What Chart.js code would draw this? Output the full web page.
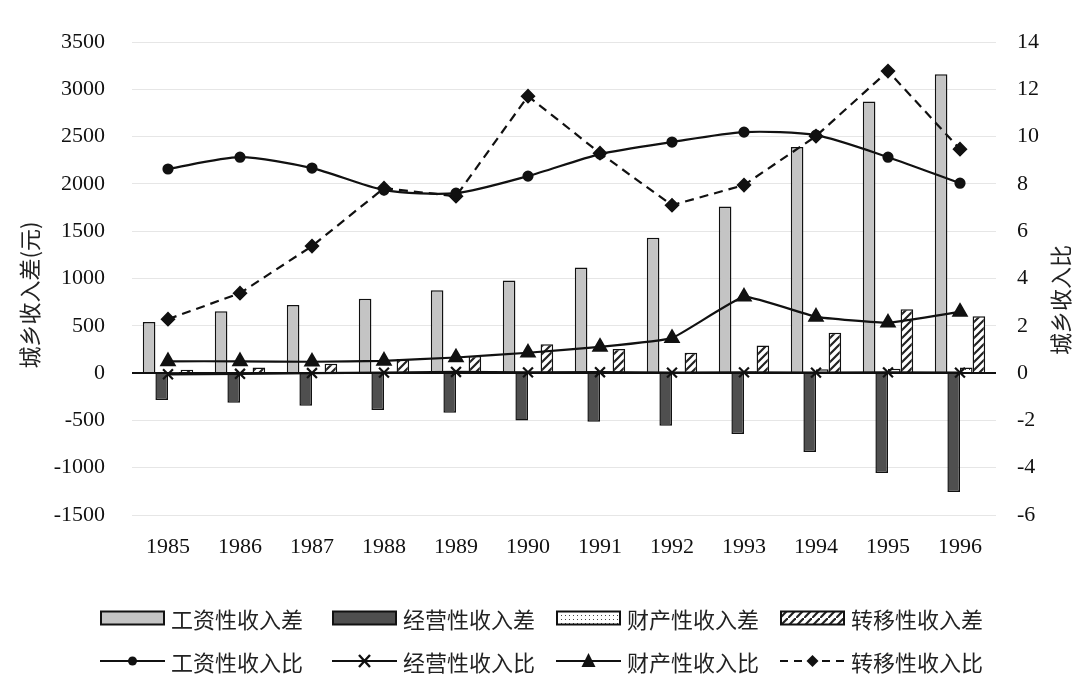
<!DOCTYPE html>
<html>
<head>
<meta charset="utf-8">
<script src="https://cdn.jsdelivr.net/npm/chart.js@4/dist/chart.umd.min.js"></script>
<style>
  html, body { margin: 0; padding: 0; background: #fff; }
  #wrap { position: relative; width: 1080px; height: 683px; }
  #chart { position: absolute; left: 0; top: 0; }
  .legend { position: absolute; left: 0; top: 0; width: 1080px; height: 683px; pointer-events: none;
    font-family: "Noto Sans CJK SC", "Noto Sans", sans-serif; font-size: 22px; color: #222; }
  .item { position: absolute; display: flex; align-items: center; white-space: nowrap; }
  .item svg { margin-right: 6px; }
</style>
</head>
<body>
<div id="wrap">
  <canvas id="chart" width="1080" height="683"></canvas>
  <div class="legend" id="legend"></div>
</div>
<script>
const years = ["1985", "1986", "1987", "1988", "1989", "1990", "1991", "1992", "1993", "1994", "1995", "1996"];

// 城乡收入差 (元), left axis
const wageDiff = [540, 655, 720, 785, 875, 980, 1115, 1430, 1760, 2390, 2870, 3160];
const bizDiff = [-285, -314, -345, -391, -420, -500, -515, -557, -645, -835, -1057, -1258];
const propDiff = [6, 8, 8, 10, 12, 14, 12, 10, 20, 40, 45, 60];
const transDiff = [35, 60, 100, 150, 180, 305, 255, 215, 293, 426, 676, 602];

// 城乡收入比, right axis
const wageRatio = [8.63, 9.13, 8.67, 7.74, 7.61, 8.33, 9.26, 9.77, 10.19, 10.06, 9.13, 8.03];
const bizRatio = [-0.05, -0.03, 0.0, 0.02, 0.05, 0.03, 0.04, 0.02, 0.03, 0.02, 0.03, 0.02];
const propRatio = [0.5, 0.5, 0.48, 0.52, 0.66, 0.86, 1.11, 1.48, 3.23, 2.38, 2.13, 2.59];
const transRatio = [2.28, 3.38, 5.37, 7.82, 7.48, 11.71, 9.3, 7.1, 7.95, 10.02, 12.77, 9.47];

const leftTicks = { min: -1500, max: 3500, step: 500 };
const rightTicks = { min: -6, max: 14, step: 2 };

function hatchPattern() {
  const c = document.createElement("canvas");
  c.width = 8; c.height = 8;
  const g = c.getContext("2d");
  g.fillStyle = "#fff";
  g.fillRect(0, 0, 8, 8);
  g.strokeStyle = "#222";
  g.lineWidth = 2.2;
  g.beginPath();
  g.moveTo(-2, 10); g.lineTo(10, -2);
  g.moveTo(-2, 2); g.lineTo(2, -2);
  g.moveTo(6, 10); g.lineTo(10, 6);
  g.stroke();
  return g.createPattern(c, "repeat");
}

function dotPattern() {
  const c = document.createElement("canvas");
  c.width = 4; c.height = 4;
  const g = c.getContext("2d");
  g.fillStyle = "#fff";
  g.fillRect(0, 0, 4, 4);
  g.fillStyle = "#444";
  g.fillRect(1, 1, 1, 1);
  return g.createPattern(c, "repeat");
}

const serif = "'Liberation Serif', 'DejaVu Serif', serif";

const axisTitles = {
  id: "axisTitles",
  afterDraw(chart) {
    const ctx = chart.ctx;
    ctx.save();
    ctx.fillStyle = "#222";
    ctx.font = "22px 'Noto Sans CJK SC', sans-serif";
    ctx.textAlign = "center";
    ctx.textBaseline = "middle";
    ctx.translate(30, 295);
    ctx.rotate(-Math.PI / 2);
    ctx.fillText("城乡收入差(元)", 0, 0);
    ctx.restore();
    ctx.save();
    ctx.fillStyle = "#222";
    ctx.font = "22px 'Noto Sans CJK SC', sans-serif";
    ctx.textAlign = "center";
    ctx.textBaseline = "middle";
    ctx.translate(1061, 300);
    ctx.rotate(-Math.PI / 2);
    ctx.fillText("城乡收入比", 0, 0);
    ctx.restore();
  }
};

const barBase = { type: "bar", yAxisID: "y", borderColor: "#111", borderWidth: 1.5, order: 2, barPercentage: 1.0, categoryPercentage: 0.7 };
const lineBase = { type: "line", yAxisID: "y1", borderColor: "#111", borderWidth: 2.2, pointBackgroundColor: "#111",
  pointBorderColor: "#111", order: 1, fill: false };

new Chart(document.getElementById("chart"), {
  data: {
    labels: years,
    datasets: [
      Object.assign({}, barBase, { label: "工资性收入差", data: wageDiff, backgroundColor: "#c4c4c4" }),
      Object.assign({}, barBase, { label: "经营性收入差", data: bizDiff, backgroundColor: "#4f4f4f" }),
      Object.assign({}, barBase, { label: "财产性收入差", data: propDiff, backgroundColor: dotPattern() }),
      Object.assign({}, barBase, { label: "转移性收入差", data: transDiff, backgroundColor: hatchPattern() }),
      Object.assign({}, lineBase, { label: "工资性收入比", data: wageRatio, pointStyle: "circle", pointRadius: 4.5, tension: 0.25 }),
      Object.assign({}, lineBase, { label: "经营性收入比", data: bizRatio, pointStyle: "crossRot", pointRadius: 7, pointBorderWidth: 2.2 }),
      Object.assign({}, lineBase, { label: "财产性收入比", data: propRatio, pointStyle: "triangle", pointRadius: 7.5, tension: 0.1 }),
      Object.assign({}, lineBase, { label: "转移性收入比", data: transRatio, pointStyle: "rectRot", pointRadius: 6, borderDash: [9, 6] })
    ]
  },
  options: {
    responsive: false,
    animation: false,
    layout: { padding: { top: 42, left: 0, right: 0, bottom: 0 } },
    plugins: { legend: { display: false }, tooltip: { enabled: false } },
    scales: {
      x: {
        offset: true,
        grid: { display: false, drawTicks: false },
        border: { display: false },
        ticks: { padding: 19, color: "#111", font: { family: serif, size: 22 } },
        afterFit(s) { s.height = 168; }
      },
      y: {
        position: "left",
        min: leftTicks.min, max: leftTicks.max,
        border: { display: false },
        grid: {
          drawTicks: false,
          color: c => (c.tick && c.tick.value === 0 ? "#111" : "#e6e6e6"),
          lineWidth: c => (c.tick && c.tick.value === 0 ? 2 : 1)
        },
        ticks: { stepSize: leftTicks.step, padding: 27, color: "#111", font: { family: serif, size: 22 },
          callback: v => String(v) },
        afterFit(s) { s.width = 132; }
      },
      y1: {
        position: "right",
        min: rightTicks.min, max: rightTicks.max,
        border: { display: false },
        grid: { display: false, drawTicks: false },
        ticks: { stepSize: rightTicks.step, padding: 21, color: "#111", font: { family: serif, size: 22 },
          callback: v => String(v) },
        afterFit(s) { s.width = 84; }
      }
    }
  },
  plugins: [axisTitles]
});

// legend, two rows of four
const cols = [100, 332, 556, 780];
function barSwatch(fill) {
  return `<svg width="65" height="16"><defs>
    <pattern id="hp" width="8" height="8" patternUnits="userSpaceOnUse"><rect width="8" height="8" fill="#fff"/><path d="M-2 10 L10 -2" stroke="#222" stroke-width="2.2"/></pattern>
    <pattern id="dp" width="4" height="4" patternUnits="userSpaceOnUse"><rect width="4" height="4" fill="#fff"/><rect x="1" y="1" width="1" height="1" fill="#444"/></pattern>
    </defs><rect x="1" y="1.5" width="63" height="13" fill="${fill}" stroke="#111" stroke-width="2"/></svg>`;
}
function lineSwatch(marker, dashed) {
  const dash = dashed ? 'stroke-dasharray="8 6"' : "";
  return `<svg width="65" height="20"><line x1="0" y1="10" x2="65" y2="10" stroke="#111" stroke-width="2.2" ${dash}/>${marker}</svg>`;
}
const markers = {
  circle: '<circle cx="32.5" cy="10" r="4.5" fill="#111"/>',
  cross: '<path d="M27 4 L38 16 M38 4 L27 16" stroke="#111" stroke-width="2.4"/>',
  tri: '<path d="M32.5 2 L39.5 16 L25.5 16 Z" fill="#111"/>',
  diamond: '<path d="M32.5 4 L38.5 10 L32.5 16 L26.5 10 Z" fill="#111"/>'
};
const legendItems = [
  [barSwatch("#c4c4c4"), "工资性收入差"],
  [barSwatch("#4f4f4f"), "经营性收入差"],
  [barSwatch("url(#dp)"), "财产性收入差"],
  [barSwatch("url(#hp)"), "转移性收入差"],
  [lineSwatch(markers.circle), "工资性收入比"],
  [lineSwatch(markers.cross), "经营性收入比"],
  [lineSwatch(markers.tri), "财产性收入比"],
  [lineSwatch(markers.diamond, true), "转移性收入比"]
];
const legendEl = document.getElementById("legend");
legendItems.forEach((it, i) => {
  const d = document.createElement("div");
  d.className = "item";
  d.style.left = cols[i % 4] + "px";
  d.style.top = (i < 4 ? 602 : 645) + "px";
  d.innerHTML = it[0] + "<span>" + it[1] + "</span>";
  legendEl.appendChild(d);
});
</script>
</body>
</html>
